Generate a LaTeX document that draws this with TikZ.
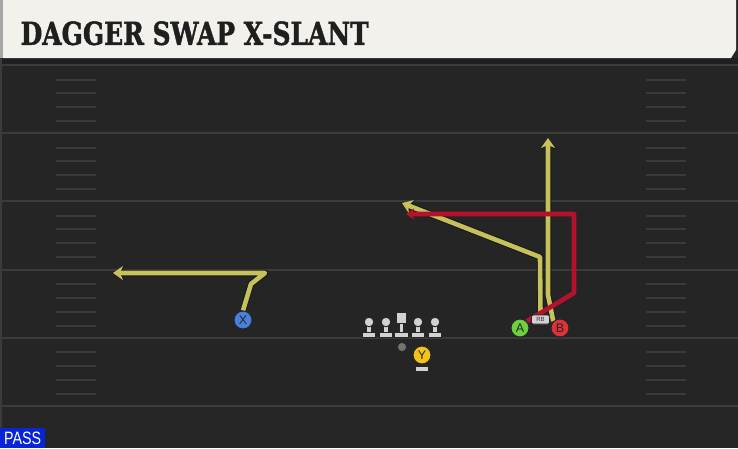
\documentclass[tikz,border=0pt]{standalone}
\usepackage{fontspec}
\setmainfont{DejaVu Serif}
\setsansfont{Liberation Sans}
\newfontfamily\titlefont[BoldFeatures={FakeBold=1.6}]{DejaVu Serif}
\usetikzlibrary{arrows.meta}
\definecolor{bg}{HTML}{252525}
\definecolor{hdr}{HTML}{F3F1EB}
\definecolor{ttl}{HTML}{1F1F1F}
\definecolor{fline}{HTML}{3B3B3B}
\definecolor{hash}{HTML}{3A3A3A}
\definecolor{ylw}{HTML}{C6C15A}
\definecolor{rrt}{HTML}{B3122E}
\definecolor{pgreen}{HTML}{6CD13D}
\definecolor{pred}{HTML}{E0313B}
\definecolor{pblue}{HTML}{4A7FE0}
\definecolor{pyel}{HTML}{F2C318}
\definecolor{lmgray}{HTML}{D2D2D2}
\definecolor{passblue}{HTML}{0725D6}
\tikzset{
  player/.style={circle, minimum size=18pt, inner sep=0pt, draw=black!85, line width=1pt,
    font=\sffamily\fontsize{12.5}{12.5}\selectfont, text=black!85},
  under/.style={draw=black!90, line width=6.5pt, line join=round},
  yroute/.style={draw=ylw, line width=4.6pt, line join=round},
  rroute/.style={draw=rrt, line width=4.6pt, line join=round},
  yhead/.style={-{Stealth[length=10pt,width=14pt,inset=3pt]}},
  uhead/.style={-{Stealth[length=11.5pt,width=16pt,inset=3pt]}},
  rhead/.style={-{Stealth[length=8pt,width=11pt,inset=2pt]}},
  lm/.style={fill=lmgray, draw=black!85, line width=0.9pt},
  lineman/.pic={
    \path[lm] (-2.2,0) rectangle (2.2,10.5);
    \path[lm] (-6.5,10.5) rectangle (6.5,15.5);
    \path[lm] (0,0) circle (4.8);
  },
  centerman/.pic={
    \path[lm] (-2.2,0) rectangle (2.2,14.5);
    \path[lm] (-7,14.5) rectangle (7,19.5);
    \path[lm] (-5,-5.2) rectangle (5,5.2);
  },
  hashmk/.style={draw=hash, line width=2pt},
  yardln/.style={draw=fline, line width=2pt}
}
\begin{document}
\begin{tikzpicture}[x=1pt,y=-1pt]
\useasboundingbox (0,0) rectangle (738,448);
% background
\fill[bg] (0,0) rectangle (738,448);
\fill[black!88] (0,58) rectangle (738,64);
\fill[black!85!white] (0,406) rectangle (738,448);
\fill[fline] (0,0) rectangle (2,448);
% header
\fill[hdr] (3,0) -- (736,0) -- (736,50) -- (731,58) -- (3,58) -- cycle;
\fill[black!35] (0,0) rectangle (3,58);
\node[anchor=south west, inner sep=0pt, text=ttl] (title) at (20.5,45.5)
  {\resizebox{348pt}{23.5pt}{\titlefont\bfseries DAGGER SWAP X-SLANT}};
% yard lines and hash marks
\foreach \yy in {65,133.2,201.4,269.6,337.8,406} {
  \draw[yardln] (0,\yy) -- (738,\yy);
}
\foreach \yy in {65,133.2,201.4,269.6,337.8} {
  \foreach \off in {14.5,28,42,56} {
    \draw[hashmk] (56,\yy+\off) -- (96,\yy+\off);
    \draw[hashmk] (646,\yy+\off) -- (686,\yy+\off);
  }
}
% players (nodes)
\node[player, fill=pblue] (X) at (243,320) {X};
\node[player, fill=pgreen] (A) at (520,328) {A};
\node[player, fill=pred] (B) at (560,328) {B};
\node[rectangle, rounded corners=2pt, fill=lmgray, draw=black!85, line width=0.6pt,
  minimum width=18pt, minimum height=9pt, inner sep=0pt,
  font=\sffamily\fontsize{6}{6}\selectfont, text=black!80] (RB) at (540.5,319.5) {RB};
% route coordinates
\coordinate (x1) at (251,284);
\coordinate (x2) at (265,273);
\coordinate (xe) at (113,273);
\coordinate (b1) at (548,295);
\coordinate (be) at (548,138);
\coordinate (r1) at (540,257);
\coordinate (re) at (402,203);
\coordinate (a1) at (574,293);
\coordinate (a2) at (574,214);
\coordinate (ae) at (406,214);
% routes: underlays
\draw[under, uhead] (X.north) -- (x1) -- (x2) -- (xe);
\draw[under, uhead] (B.north west) -- (b1) -- (be);
\draw[under, uhead] (RB.north) -- (r1) -- (re);
% routes: yellow
\draw[yroute, yhead] (X.north) -- (x1) -- (x2) -- (xe);
\draw[yroute, yhead] (B.north west) -- (b1) -- (be);
\draw[yroute, yhead] (RB.north) -- (r1) -- (re);
% red route
\draw[rroute, rhead] (A.north east) -- (a1) -- (a2) -- (ae);
% redraw players on top
\node[player, fill=pblue] at (X) {X};
\node[player, fill=pgreen] at (A) {A};
\node[player, fill=pred] at (B) {B};
\node[rectangle, rounded corners=2pt, fill=lmgray, draw=black!85, line width=0.6pt,
  minimum width=18pt, minimum height=9pt, inner sep=0pt,
  font=\sffamily\fontsize{6}{6}\selectfont, text=black!80] at (RB) {RB};
% offensive line
\pic at (369,322) {lineman};
\pic at (386,322) {lineman};
\pic at (401.5,318) {centerman};
\pic at (418,322) {lineman};
\pic at (435,322) {lineman};
% QB dot
\node[circle, fill=black!55, draw=black!85, line width=0.6pt, minimum size=9pt, inner sep=0pt] (QB) at (402,347) {};
% Y
\path[lm] (415.5,366) rectangle (428.5,371);
\node[player, fill=pyel] (Y) at (422,355) {Y};
% PASS tag
\fill[passblue] (0,428) rectangle (45,448);
\node[anchor=south west, inner sep=0pt, text=white] (pass) at (4,444.5)
  {\resizebox{37pt}{12.5pt}{\sffamily PASS}};
\end{tikzpicture}
\end{document}
